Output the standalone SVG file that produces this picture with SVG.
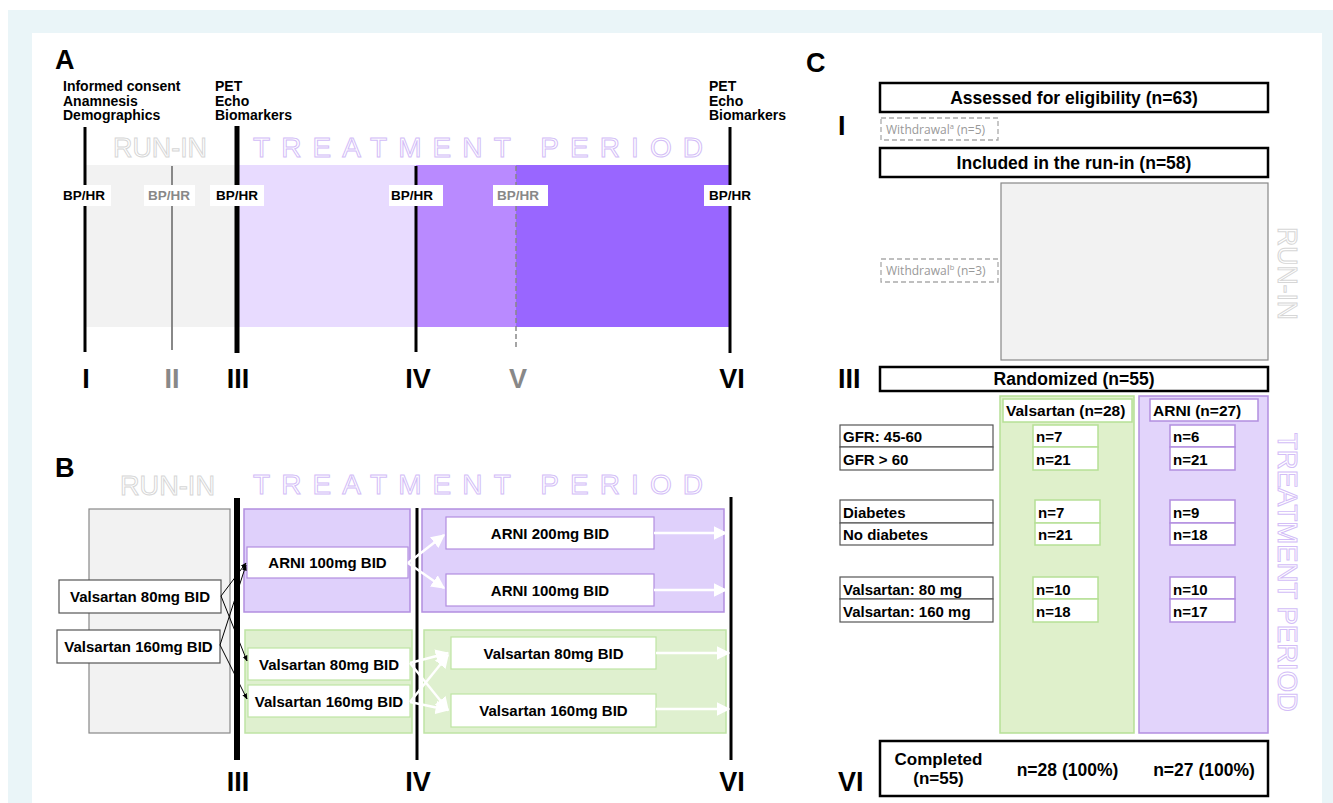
<svg xmlns="http://www.w3.org/2000/svg" width="1333" height="803" viewBox="0 0 1333 803">
<defs>
<style>
.b{font-family:"Liberation Sans",Arial,sans-serif;font-weight:bold;fill:#000}
.lbl{font-size:14px}
.bp{font-size:13.5px}
.rom{font-family:"Liberation Sans",Arial,sans-serif;font-weight:bold;font-size:27px}
.out{font-family:"Liberation Sans",Arial,sans-serif;font-size:28px;fill:none;stroke-width:1}
.runin{stroke:#d6d6d6}
.treat{stroke:#d3bdf7}
.wbox{fill:#fff}
.med{font-size:15px}
.big{font-size:17.5px}
.cbox{fill:#fff;stroke:#000;stroke-width:2.5}
.lb{fill:#fff;stroke:#555;stroke-width:1.2}
.gn{fill:#fff;stroke:#b6e096;stroke-width:1.5}
.pn{fill:#fff;stroke:#b28ee0;stroke-width:1.5}
.wd{fill:#fff;stroke:#aaa;stroke-width:1.3;stroke-dasharray:5 3}
.wdt{font-family:"Open Sans","Liberation Sans",sans-serif;font-size:12px;fill:#999}
.warr{stroke:#fff;stroke-width:2.5;fill:none}
.barr{stroke:#000;stroke-width:1;fill:none}
</style>
<marker id="wh" viewBox="0 0 10 10" refX="9" refY="5" markerWidth="5.5" markerHeight="5.5" orient="auto" markerUnits="strokeWidth"><path d="M0,0 L10,5 L0,10 z" fill="#fff"/></marker>
<marker id="bh" viewBox="0 0 10 10" refX="9" refY="5" markerWidth="6" markerHeight="6" orient="auto" markerUnits="strokeWidth"><path d="M0,1 L10,5 L0,9 z" fill="#000"/></marker>
</defs>

<rect x="0" y="0" width="1333" height="803" fill="#fff"/>
<rect x="8" y="10" width="1325" height="793" fill="#eaf5f8"/>
<rect x="32" y="33" width="1290" height="770" fill="#fff"/>

<!-- Panel A -->
<g id="panelA">
<text x="55" y="69" class="b" font-size="27">A</text>
<rect x="85" y="165" width="152" height="162" fill="#f2f2f2"/>
<rect x="237" y="165" width="179" height="162" fill="#e8dbff"/>
<rect x="416" y="165" width="100" height="162" fill="#b98aff"/>
<rect x="516" y="165" width="214" height="162" fill="#9966ff"/>
<text x="113" y="157" class="out runin" textLength="94" lengthAdjust="spacingAndGlyphs">RUN-IN</text>
<text x="253" y="157" class="out treat" textLength="450" lengthAdjust="spacing">TREATMENT PERIOD</text>
<g class="b lbl">
<text x="63" y="91">Informed consent</text>
<text x="63" y="105.5">Anamnesis</text>
<text x="63" y="120">Demographics</text>
<text x="215" y="91">PET</text>
<text x="215" y="105.5">Echo</text>
<text x="215" y="120">Biomarkers</text>
<text x="709" y="91">PET</text>
<text x="709" y="105.5">Echo</text>
<text x="709" y="120">Biomarkers</text>
</g>
<line x1="85" y1="127" x2="85" y2="352" stroke="#000" stroke-width="3"/>
<line x1="172" y1="166" x2="172" y2="350" stroke="#888" stroke-width="2"/>
<line x1="237" y1="126" x2="237" y2="353" stroke="#000" stroke-width="5"/>
<line x1="416" y1="166" x2="416" y2="352" stroke="#000" stroke-width="3"/>
<line x1="516" y1="166" x2="516" y2="350" stroke="#888" stroke-width="1.5" stroke-dasharray="5 3"/>
<line x1="730" y1="127" x2="730" y2="353" stroke="#000" stroke-width="3"/>
<rect x="60" y="185" width="51" height="21" class="wbox"/>
<rect x="144" y="185" width="51" height="21" class="wbox"/>
<rect x="210" y="185" width="54" height="21" class="wbox"/>
<rect x="389" y="185" width="54" height="21" class="wbox"/>
<rect x="493" y="185" width="55" height="21" class="wbox"/>
<rect x="704" y="185" width="50" height="21" class="wbox"/>
<g class="b bp">
<text x="63" y="200">BP/HR</text>
<text x="148" y="200" style="fill:#888">BP/HR</text>
<text x="216" y="200">BP/HR</text>
<text x="391" y="200">BP/HR</text>
<text x="497" y="200" style="fill:#888">BP/HR</text>
<text x="709" y="200">BP/HR</text>
</g>
<g class="rom" text-anchor="middle">
<text x="86" y="388">I</text>
<text x="172" y="388" fill="#888">II</text>
<text x="238" y="388">III</text>
<text x="418" y="388">IV</text>
<text x="518" y="388" fill="#888">V</text>
<text x="732" y="388">VI</text>
</g>
</g>

<!-- Panel B -->
<g id="panelB">
<text x="55" y="477" class="b" font-size="27">B</text>
<text x="120" y="495" class="out runin" textLength="95" lengthAdjust="spacingAndGlyphs">RUN-IN</text>
<text x="253" y="494" class="out treat" textLength="450" lengthAdjust="spacing">TREATMENT PERIOD</text>
<rect x="89" y="509" width="141" height="224" fill="#f2f2f2" stroke="#888" stroke-width="1.2"/>
<rect x="244" y="509" width="166" height="103" fill="#dfd0fb" stroke="#b28ee0" stroke-width="1.5"/>
<rect x="422" y="509" width="302" height="103" fill="#dfd0fb" stroke="#b28ee0" stroke-width="1.5"/>
<rect x="245" y="630" width="167" height="103" fill="#dff0cf" stroke="#bfe4a4" stroke-width="1.5"/>
<rect x="424" y="630" width="302" height="103" fill="#dff0cf" stroke="#bfe4a4" stroke-width="1.5"/>
<line x1="237" y1="498" x2="237" y2="760" stroke="#000" stroke-width="6"/>
<line x1="417" y1="508" x2="417" y2="760" stroke="#000" stroke-width="3"/>
<line x1="731" y1="497" x2="731" y2="760" stroke="#000" stroke-width="3"/>
</g>
<g id="b-val80-runin"><rect x="59" y="580" width="162" height="33" class="lb"/><text x="140" y="602" class="b med" text-anchor="middle">Valsartan 80mg BID</text></g>
<g id="b-val160-runin"><rect x="57" y="630" width="163" height="33" class="lb"/><text x="138.5" y="652" class="b med" text-anchor="middle">Valsartan 160mg BID</text></g>
<g id="b-arni100"><rect x="247" y="547" width="161" height="31" fill="#fff" stroke="#b28ee0" stroke-width="1.2"/><text x="327.5" y="568" class="b med" text-anchor="middle">ARNI 100mg BID</text></g>
<g id="b-arni200b"><rect x="446" y="517" width="208" height="32" fill="#fff" stroke="#b28ee0" stroke-width="1.2"/><text x="550" y="539" class="b med" text-anchor="middle">ARNI 200mg BID</text></g>
<g id="b-arni100b"><rect x="446" y="574" width="208" height="32" fill="#fff" stroke="#b28ee0" stroke-width="1.2"/><text x="550" y="596" class="b med" text-anchor="middle">ARNI 100mg BID</text></g>
<g id="b-val80"><rect x="248" y="648" width="162" height="32" fill="#fff" stroke="#bfe4a4" stroke-width="1.2"/><text x="329" y="670" class="b med" text-anchor="middle">Valsartan 80mg BID</text></g>
<g id="b-val160"><rect x="248" y="685" width="162" height="32" fill="#fff" stroke="#bfe4a4" stroke-width="1.2"/><text x="329" y="707" class="b med" text-anchor="middle">Valsartan 160mg BID</text></g>
<g id="b-val80b"><rect x="451" y="637" width="205" height="32" fill="#fff" stroke="#bfe4a4" stroke-width="1.2"/><text x="553.5" y="659" class="b med" text-anchor="middle">Valsartan 80mg BID</text></g>
<g id="b-val160b"><rect x="451" y="694" width="205" height="33" fill="#fff" stroke="#bfe4a4" stroke-width="1.2"/><text x="553.5" y="716" class="b med" text-anchor="middle">Valsartan 160mg BID</text></g>
<g id="b-romans" class="rom" text-anchor="middle">
<text x="238" y="791">III</text>
<text x="418" y="791">IV</text>
<text x="732" y="791">VI</text>
</g>

<g id="connectors">
<line x1="221" y1="596" x2="246" y2="563" class="barr" marker-end="url(#bh)"/>
<line x1="221" y1="596" x2="247" y2="661" class="barr" marker-end="url(#bh)"/>
<line x1="220" y1="645" x2="246" y2="565" class="barr" marker-end="url(#bh)"/>
<line x1="220" y1="645" x2="247" y2="699" class="barr" marker-end="url(#bh)"/>
<line x1="408" y1="563" x2="444" y2="535" class="warr" marker-end="url(#wh)"/>
<line x1="408" y1="563" x2="444" y2="588" class="warr" marker-end="url(#wh)"/>
<line x1="654" y1="533" x2="726" y2="533" class="warr" marker-end="url(#wh)"/>
<line x1="654" y1="590" x2="726" y2="590" class="warr" marker-end="url(#wh)"/>
<line x1="410" y1="663" x2="448" y2="653" class="warr" marker-end="url(#wh)"/>
<line x1="410" y1="663" x2="448" y2="710" class="warr" marker-end="url(#wh)"/>
<line x1="410" y1="702" x2="448" y2="655" class="warr" marker-end="url(#wh)"/>
<line x1="410" y1="702" x2="448" y2="710" class="warr" marker-end="url(#wh)"/>
<line x1="656" y1="653" x2="729" y2="653" class="warr" marker-end="url(#wh)"/>
<line x1="656" y1="709" x2="729" y2="709" class="warr" marker-end="url(#wh)"/>
</g>

<!-- Panel C -->
<g id="panelC">
<text x="806" y="72" class="b" font-size="27">C</text>
<rect x="1001" y="183" width="267" height="177" fill="#f2f2f2" stroke="#888" stroke-width="1.2"/>
<rect x="1000" y="396" width="134" height="337" fill="#dff0cb" stroke="#b6e096" stroke-width="1.5"/>
<rect x="1139" y="396" width="129" height="337" fill="#e2d4fb" stroke="#b28ee0" stroke-width="1.5"/>
<text transform="translate(1278,227) rotate(90)" class="out runin" textLength="93" lengthAdjust="spacingAndGlyphs">RUN-IN</text>
<text transform="translate(1278,433) rotate(90)" class="out treat" font-size="30" textLength="279" lengthAdjust="spacingAndGlyphs">TREATMENT PERIOD</text>
<g class="rom" font-size="26">
<text x="838" y="135">I</text>
<text x="838" y="388">III</text>
<text x="838" y="791">VI</text>
</g>
</g>
<g id="c-assessed"><rect x="880" y="83" width="388" height="29" class="cbox"/><text x="1074" y="104" class="b big" text-anchor="middle">Assessed for eligibility (n=63)</text></g>
<g id="c-wd-a"><rect x="881" y="118" width="117" height="22" class="wd"/><text x="886" y="133.5" class="wdt">Withdrawal<tspan baseline-shift="super" font-size="7.5">a</tspan> (n=5)</text></g>
<g id="c-included"><rect x="880" y="148" width="388" height="29" class="cbox"/><text x="1074" y="169" class="b big" text-anchor="middle">Included in the run-in (n=58)</text></g>
<g id="c-wd-b"><rect x="881" y="259" width="117" height="23" class="wd"/><text x="886" y="275" class="wdt">Withdrawal<tspan baseline-shift="super" font-size="7.5">b</tspan> (n=3)</text></g>
<g id="c-randomized"><rect x="880" y="367" width="388" height="24" class="cbox"/><text x="1074" y="385" class="b big" text-anchor="middle">Randomized (n=55)</text></g>
<g id="c-valsartan"><rect x="1003" y="399" width="129" height="23" class="gn"/><text x="1006" y="416" class="b" font-size="15.5">Valsartan (n=28)</text></g>
<g id="c-arni"><rect x="1150" y="399" width="108" height="22" class="pn"/><text x="1153" y="416" class="b" font-size="15.5">ARNI (n=27)</text></g>
<g id="c-labels" class="b" font-size="15">
<rect x="840" y="425" width="153" height="22" class="lb"/><rect x="840" y="447" width="153" height="23" class="lb"/>
<rect x="840" y="500" width="153" height="23" class="lb"/><rect x="840" y="523" width="153" height="22" class="lb"/>
<rect x="840" y="577" width="153" height="22" class="lb"/><rect x="840" y="599" width="153" height="23" class="lb"/>
<text x="843" y="441.5">GFR: 45-60</text>
<text x="843" y="464.5">GFR &gt; 60</text>
<text x="843" y="517.5">Diabetes</text>
<text x="843" y="539.5">No diabetes</text>
<text x="843" y="594.5">Valsartan: 80 mg</text>
<text x="843" y="616.5">Valsartan: 160 mg</text>
</g>
<g id="c-val-n" class="b" font-size="15">
<rect x="1033" y="425" width="65" height="22" class="gn"/><rect x="1033" y="447" width="65" height="23" class="gn"/>
<rect x="1035" y="500" width="65" height="23" class="gn"/><rect x="1035" y="523" width="65" height="22" class="gn"/>
<rect x="1033" y="577" width="65" height="22" class="gn"/><rect x="1033" y="599" width="65" height="23" class="gn"/>
<text x="1036" y="441.5">n=7</text>
<text x="1036" y="464.5">n=21</text>
<text x="1038" y="517.5">n=7</text>
<text x="1038" y="539.5">n=21</text>
<text x="1036" y="594.5">n=10</text>
<text x="1036" y="616.5">n=18</text>
</g>
<g id="c-arni-n" class="b" font-size="15">
<rect x="1170" y="425" width="65" height="22" class="pn"/><rect x="1170" y="447" width="65" height="23" class="pn"/>
<rect x="1170" y="500" width="65" height="23" class="pn"/><rect x="1170" y="523" width="65" height="22" class="pn"/>
<rect x="1170" y="577" width="65" height="22" class="pn"/><rect x="1170" y="599" width="65" height="23" class="pn"/>
<text x="1173" y="441.5">n=6</text>
<text x="1173" y="464.5">n=21</text>
<text x="1173" y="517.5">n=9</text>
<text x="1173" y="539.5">n=18</text>
<text x="1173" y="594.5">n=10</text>
<text x="1173" y="616.5">n=17</text>
</g>
<g id="c-completed"><rect x="880" y="741" width="388" height="55" class="cbox"/>
<text x="938.5" y="765" class="b" font-size="17" text-anchor="middle">Completed</text>
<text x="938.5" y="784" class="b" font-size="17" text-anchor="middle">(n=55)</text>
<text x="1067.5" y="776" class="b big" text-anchor="middle">n=28 (100%)</text>
<text x="1204" y="776" class="b big" text-anchor="middle">n=27 (100%)</text>
</g>
</svg>
